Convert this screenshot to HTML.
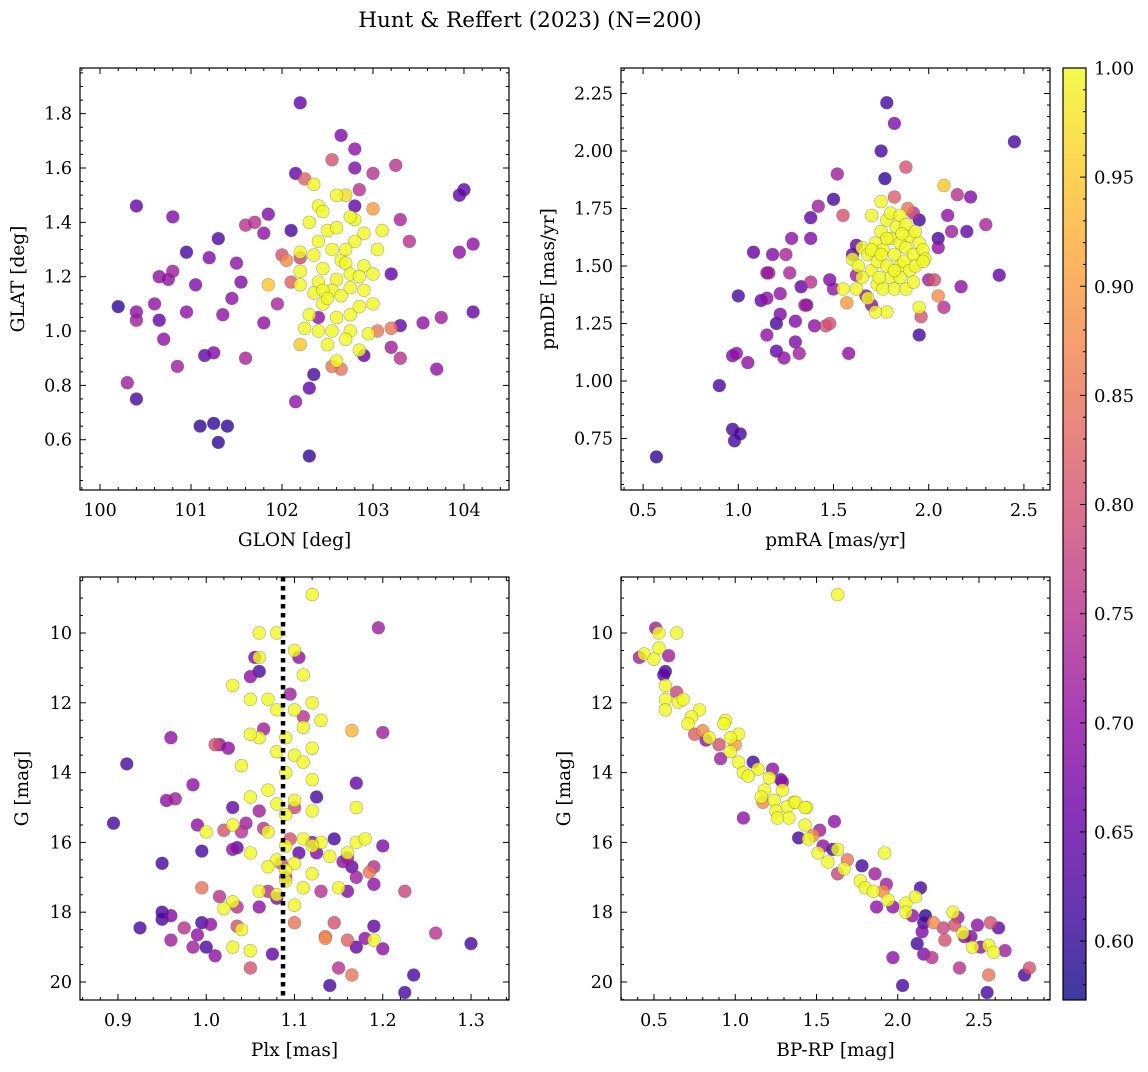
<!DOCTYPE html>
<html><head><meta charset="utf-8">
<style>
html,body{margin:0;padding:0;background:#fff;}
svg text{font-family:"DejaVu Serif","Liberation Serif",serif;fill:#000;}
</style></head>
<body>
<svg id="fig" width="1148" height="1067" xmlns="http://www.w3.org/2000/svg">
<defs>
<linearGradient id="plasma" x1="0" y1="1" x2="0" y2="0">
<stop offset="0" stop-color="#0d0887"/><stop offset="0.1" stop-color="#41049d"/><stop offset="0.2" stop-color="#6a00a8"/><stop offset="0.3" stop-color="#8f0da4"/><stop offset="0.4" stop-color="#b12a90"/><stop offset="0.5" stop-color="#cc4778"/><stop offset="0.6" stop-color="#e16462"/><stop offset="0.7" stop-color="#f2844b"/><stop offset="0.8" stop-color="#fca636"/><stop offset="0.9" stop-color="#fcce25"/><stop offset="1" stop-color="#f0f921"/>
</linearGradient>
</defs>
<text x="530" y="27" font-size="21.5" text-anchor="middle">Hunt &amp; Reffert (2023) (N=200)</text>
</svg>
<script>
// ---------- data ----------
const p1x=[100.2,100.3,100.4,100.4,100.4,100.4,100.6,100.65,100.65,100.75,100.7,100.8,100.8,100.85,100.95,100.95,101.05,101.1,101.15,101.2,101.25,101.25,101.3,101.3,101.35,101.4,101.45,101.5,101.55,101.6,101.6,101.7,101.8,101.8,101.85,101.95,102.0,102.1,102.15,102.15,102.2,102.2,102.3,102.3,102.35,102.4,102.55,102.65,102.8,102.8,102.8,102.85,103.0,103.0,102.9,103.2,103.25,103.3,103.4,103.3,103.3,103.2,103.2,103.55,103.7,103.75,103.95,104.0,104.1,104.1,103.95,103.05,102.25,102.1,102.05,102.65,102.55,101.85,
102.35,102.6,102.7,102.4,102.45,102.8,102.75,102.3,102.5,102.6,102.9,103.1,102.4,102.55,102.8,102.35,102.2,102.65,102.7,102.9,102.45,102.2,102.75,102.85,103.0,103.05,102.6,102.4,102.2,102.55,102.35,102.75,102.9,102.65,102.45,102.85,102.3,102.6,102.75,102.25,102.4,102.55,102.75,102.95,102.7,102.5,102.2,102.85,102.6,102.45,102.7,102.5,103.0];
const p1y=[1.09,0.81,1.46,1.07,1.04,0.75,1.1,1.2,1.04,1.19,0.97,1.42,1.22,0.87,1.29,1.07,1.17,0.65,0.91,1.27,0.66,0.92,1.34,0.59,1.06,0.65,1.12,1.25,1.18,0.9,1.39,1.4,1.03,1.36,1.43,1.1,1.28,1.37,1.58,0.74,1.84,1.27,0.54,0.79,0.84,1.05,1.63,1.72,1.67,1.6,1.46,1.52,1.58,1.45,0.91,1.21,1.61,1.41,1.33,1.02,0.9,0.94,1.01,1.03,0.86,1.05,1.5,1.52,1.32,1.07,1.29,1.0,1.56,1.18,1.26,0.86,0.87,1.17,
1.54,1.5,1.5,1.46,1.44,1.41,1.42,1.4,1.37,1.38,1.36,1.37,1.33,1.3,1.33,1.28,1.29,1.26,1.25,1.24,1.23,1.22,1.21,1.2,1.21,1.3,1.19,1.18,1.17,1.15,1.14,1.16,1.15,1.13,1.1,1.09,1.06,1.05,1.06,1.01,1.0,1.0,1.0,0.99,0.97,0.95,0.95,0.93,0.89,1.15,1.3,1.12,1.1];
const p1c=[0.6,0.72,0.65,0.7,0.72,0.62,0.7,0.7,0.65,0.7,0.7,0.68,0.72,0.72,0.62,0.7,0.68,0.6,0.65,0.68,0.6,0.68,0.62,0.6,0.7,0.6,0.7,0.7,0.68,0.73,0.75,0.75,0.7,0.7,0.68,0.73,0.8,0.62,0.65,0.7,0.65,0.78,0.6,0.65,0.62,0.7,0.8,0.68,0.7,0.68,0.65,0.75,0.75,0.9,0.65,0.65,0.75,0.73,0.75,0.65,0.75,0.72,0.85,0.7,0.7,0.72,0.65,0.65,0.7,0.65,0.7,0.85,0.82,0.82,0.88,0.85,0.85,0.95,
1,1,0.97,1,1,1,1,1,1,1,1,1,1,1,1,1,1,1,1,1,1,1,1,1,1,1,1,1,1,1,1,1,1,1,1,1,1,1,1,1,1,1,1,1,1,1,0.95,1,1,1,1,1,1];

const p2x=[0.57,0.9,0.97,0.98,1.01,0.97,0.99,1.0,1.05,1.08,1.12,1.15,1.16,1.15,1.15,1.18,1.2,1.2,1.22,1.22,1.24,1.25,1.27,1.28,1.3,1.3,1.32,1.33,1.35,1.36,1.38,1.38,1.38,1.4,1.42,1.46,1.48,1.5,1.5,1.52,1.55,1.58,1.6,1.62,1.62,1.67,1.7,1.75,1.77,1.78,1.82,1.88,1.92,1.95,1.95,1.96,2.0,2.03,2.05,2.05,2.08,2.1,2.12,2.15,2.17,2.22,2.2,2.3,2.37,2.45,2.05,2.08,1.89,1.82,1.57,1.48,
1.6,1.63,1.65,1.68,1.7,1.72,1.73,1.75,1.76,1.78,1.78,1.8,1.8,1.82,1.83,1.85,1.85,1.87,1.88,1.9,1.9,1.92,1.93,1.95,1.97,1.98,1.7,1.75,1.8,1.85,1.88,1.65,1.62,1.68,1.73,1.76,1.82,1.88,1.92,1.95,1.78,1.72,1.55,1.74,1.85,1.78,1.82,1.7,1.93,1.97,1.86,1.75];
const p2y=[0.67,0.98,0.79,0.74,0.77,1.11,1.12,1.37,1.08,1.56,1.35,1.47,1.47,1.36,1.2,1.55,1.13,1.25,1.29,1.38,1.1,1.55,1.47,1.62,1.26,1.17,1.12,1.41,1.33,1.33,1.71,1.62,1.43,1.24,1.76,1.24,1.44,1.79,1.4,1.9,1.72,1.12,1.55,1.46,1.59,1.37,1.33,2.0,1.88,2.21,2.12,1.93,1.73,1.7,1.2,1.28,1.44,1.44,1.58,1.62,1.32,1.72,1.65,1.81,1.41,1.8,1.65,1.68,1.46,2.04,1.37,1.85,1.75,1.8,1.34,1.25,
1.53,1.5,1.58,1.55,1.48,1.6,1.52,1.65,1.57,1.5,1.7,1.62,1.45,1.55,1.67,1.6,1.5,1.52,1.58,1.63,1.48,1.55,1.5,1.6,1.57,1.53,1.72,1.78,1.73,1.72,1.68,1.45,1.4,1.36,1.42,1.4,1.4,1.4,1.43,1.32,1.3,1.3,1.4,1.45,1.45,1.62,1.48,1.57,1.65,1.52,1.64,1.55];
const p2c=[0.6,0.62,0.62,0.62,0.62,0.68,0.7,0.62,0.7,0.65,0.65,0.7,0.72,0.7,0.7,0.68,0.65,0.62,0.68,0.7,0.7,0.73,0.73,0.7,0.68,0.68,0.72,0.65,0.72,0.68,0.65,0.68,0.75,0.7,0.72,0.8,0.68,0.62,0.7,0.72,0.8,0.7,0.65,0.72,0.65,0.7,0.7,0.62,0.6,0.62,0.68,0.8,0.75,0.62,0.62,0.8,0.72,0.8,0.7,0.62,0.75,0.7,0.72,0.75,0.7,0.68,0.65,0.73,0.65,0.62,0.88,0.95,0.85,0.82,0.9,0.8,
1,1,1,1,1,1,1,1,1,1,1,1,1,1,1,1,1,1,1,1,1,1,1,1,1,1,1,1,1,1,1,1,1,1,1,1,1,1,1,1,1,1,1,1,1,1,1,1,1,1,1,1];

const p3x=[1.12,1.06,1.08,1.06,1.1,1.11,1.07,1.05,1.03,1.12,1.1,1.13,1.08,1.11,1.09,1.06,1.05,1.12,1.1,1.08,1.04,1.11,1.09,1.12,1.07,1.05,1.1,1.08,1.09,1.12,1.03,1.07,1.11,1.13,1.09,1.05,1.08,1.1,1.14,1.16,1.07,1.12,1.09,1.06,1.08,1.1,1.03,1.02,1.04,1.03,1.05,1.17,1.19,1.17,1.18,1.15,1.11,1.09,1.0,1.12,
0.895,0.91,0.925,0.95,0.95,0.95,0.955,0.96,0.96,0.96,0.965,0.975,0.985,0.985,0.99,0.99,0.995,0.995,0.995,1.0,1.005,1.01,1.01,1.015,1.015,1.02,1.025,1.03,1.03,1.035,1.035,1.035,1.04,1.045,1.05,1.05,1.055,1.06,1.06,1.06,1.065,1.065,1.07,1.075,1.08,1.085,1.09,1.095,1.095,1.1,1.1,1.105,1.105,1.11,1.12,1.125,1.125,1.13,1.135,1.14,1.145,1.145,1.155,1.15,1.16,1.16,1.165,1.165,1.17,1.17,1.17,1.18,1.185,1.19,1.19,1.19,1.195,1.2,1.2,1.2,1.225,1.225,1.235,1.26,1.3,1.165,1.135,1.16];
const p3y=[8.9,10.0,10.0,10.7,10.5,11.2,11.9,11.9,11.5,12.0,12.2,12.5,12.2,12.7,13.0,13.0,12.9,13.3,13.5,13.4,13.8,13.7,14.0,14.2,14.5,14.7,14.8,14.9,15.2,15.1,15.5,15.7,15.9,16.0,16.1,16.3,16.5,16.6,16.4,16.3,16.7,16.9,17.1,17.4,17.5,17.8,17.7,17.9,18.5,19.0,19.1,16.0,18.8,15.0,15.9,17.3,17.3,16.8,15.7,16.1,
15.45,13.75,18.45,16.6,18.2,18.0,14.8,13.0,18.1,18.8,14.75,18.45,19.0,14.35,18.65,15.5,16.25,18.3,17.3,19.0,18.35,13.2,19.25,13.2,17.55,15.65,13.3,16.2,15.0,16.15,18.4,17.85,15.7,15.45,19.6,11.25,10.7,11.1,15.1,17.85,12.75,15.6,17.4,19.2,17.6,16.6,17.0,15.9,11.75,18.3,15.0,16.3,10.7,12.4,16.0,16.3,14.7,17.4,18.7,20.1,18.3,15.9,16.55,19.6,17.4,18.8,19.8,16.7,14.3,17.0,19.0,18.75,16.85,17.2,18.4,16.7,9.85,12.85,19.05,16.1,17.4,20.3,19.8,18.6,18.9,12.8,18.75,16.45];
const p3c=[1,1,1,1,1,1,1,1,1,1,1,1,1,1,1,1,1,1,1,1,1,1,1,1,1,1,1,1,1,1,1,1,1,1,1,1,1,1,1,1,1,1,1,1,1,1,1,1,1,1,1,1,1,1,1,1,1,1,1,1,
0.62,0.62,0.62,0.62,0.62,0.62,0.7,0.7,0.68,0.72,0.72,0.75,0.72,0.7,0.7,0.7,0.62,0.62,0.85,0.62,0.7,0.8,0.7,0.7,0.75,0.8,0.7,0.7,0.65,0.65,0.8,0.75,0.75,0.72,0.8,0.7,0.68,0.62,0.72,0.7,0.72,0.75,0.75,0.65,0.68,0.8,0.75,0.8,0.72,0.85,0.78,0.65,0.7,0.75,0.7,0.68,0.62,0.75,0.85,0.62,0.8,0.62,0.7,0.75,0.68,0.82,0.85,0.65,0.65,0.72,0.65,0.7,0.85,0.7,0.65,0.75,0.72,0.72,0.7,0.68,0.78,0.62,0.62,0.75,0.62,0.93,0.88,0.72];

const p4x=[1.63,0.51,0.53,0.64,0.53,0.41,0.44,0.5,0.59,0.57,0.56,0.57,0.64,0.57,0.57,0.65,0.68,0.78,0.73,0.71,0.75,0.80,0.84,0.82,0.9,0.91,0.94,0.93,1.02,0.97,1.0,0.97,1.02,1.11,1.14,1.05,1.08,1.23,1.28,1.21,1.29,1.18,1.16,1.24,1.17,1.36,1.44,1.32,1.25,1.33,1.05,1.61,1.26,
1.29,1.37,1.43,1.43,1.52,1.39,1.48,1.45,1.54,1.63,1.51,1.60,1.69,1.57,1.67,1.63,1.78,1.86,1.92,1.77,1.80,1.85,1.87,1.91,1.93,1.94,1.97,2.05,2.11,2.05,2.14,2.09,2.17,2.16,2.15,2.22,2.28,2.34,2.37,2.35,2.29,2.40,2.41,2.45,2.49,2.57,2.62,2.56,2.59,2.46,2.51,2.66,2.12,2.16,2.21,1.97,2.38,2.56,2.03,2.55,2.78,2.81];
const p4y=[8.9,9.86,10.0,10.0,10.43,10.7,10.6,10.75,10.65,11.1,11.2,11.5,11.7,11.9,12.2,11.98,11.9,12.2,12.4,12.6,12.9,12.8,13.0,13.07,13.2,13.6,12.5,12.6,12.9,13.0,13.2,13.4,13.7,13.7,13.9,14.0,14.1,13.9,14.2,14.15,14.5,14.5,14.7,14.8,14.85,14.85,15.0,14.98,15.1,15.3,15.3,15.4,15.3,
14.27,14.85,15.0,15.5,15.65,15.87,15.8,15.9,16.1,16.2,16.3,16.2,16.5,16.56,16.76,16.9,16.67,16.9,16.3,17.1,17.3,17.4,17.85,17.4,17.2,17.65,17.85,17.74,17.56,18.0,17.3,18.1,18.1,18.3,18.56,18.3,18.45,18.0,18.15,18.37,18.8,18.6,18.7,18.7,18.37,18.3,18.45,18.95,19.15,19.0,19.0,19.1,18.9,19.2,19.3,19.3,19.6,19.8,20.1,20.3,19.8,19.6];
const p4c=[1,0.72,1,1,1,0.72,1,1,0.72,0.62,0.65,1,0.78,1,1,1,1,1,1,1,0.82,0.88,1,0.7,0.8,0.72,1,1,1,1,0.9,1,1,0.62,1,1,1,0.7,0.65,1,1,1,1,1,0.88,1,1,1,1,1,0.7,0.7,1,
0.7,1,1,1,0.72,0.62,0.88,1,0.7,1,1,0.62,0.85,1,1,0.78,0.62,0.72,1,1,1,1,0.7,0.88,0.72,1,0.7,1,1,1,0.62,0.7,0.6,0.62,0.68,0.88,0.78,1,0.72,0.8,0.8,1,0.7,0.68,0.7,0.8,0.65,1,1,1,0.7,0.72,0.62,0.68,0.75,0.7,0.75,0.85,0.62,0.62,0.62,0.8];

const cbTicks=[0.60,0.65,0.70,0.75,0.80,0.85,0.90,0.95,1.00];
const cMin=0.573, cMax=1.0;

// ---------- drawing ----------
const NS="http://www.w3.org/2000/svg";
const svg=document.getElementById('fig');
function mk(tag,attrs,parent){const e=document.createElementNS(NS,tag);for(const k in attrs)e.setAttribute(k,attrs[k]);(parent||svg).appendChild(e);return e;}
const stops=[[13,8,135],[65,4,157],[106,0,168],[143,13,164],[177,42,144],[204,71,120],[225,100,98],[242,132,75],[252,166,54],[252,206,37],[240,249,33]];
function plasma(v){let t=(v-cMin)/(cMax-cMin);t=Math.max(0,Math.min(1,t))*10;const i=Math.min(9,Math.floor(t)),f=t-i;const a=stops[i],b=stops[i+1];return `rgb(${a.map((c,k)=>Math.round(c+(b[k]-c)*f)).join(',')})`;}

function panel(cfg){
  const {L,R,T,B,x0,x1,y0,y1,inv}=cfg;
  const sx=v=>L+(v-x0)/(x1-x0)*(R-L);
  const sy=v=>inv? T+(v-y0)/(y1-y0)*(B-T) : B-(v-y0)/(y1-y0)*(B-T);
  const g=mk('g',{});
  
  
  const pts=mk('g',{},g);
  
  
  const order=cfg.xs.map((_,i)=>i).sort((a,b)=>cfg.cs[a]-cfg.cs[b]);
  order.forEach(i=>{
    const c=mk('circle',{cx:sx(cfg.xs[i]).toFixed(1),cy:sy(cfg.ys[i]).toFixed(1),r:6.4,fill:plasma(cfg.cs[i]),'fill-opacity':0.8,stroke:'rgba(80,80,80,0.45)','stroke-width':0.6},pts);
    
    
  });
  if(cfg.vline!==undefined){
    const l=mk('line',{x1:sx(cfg.vline),x2:sx(cfg.vline),y1:T,y2:B,stroke:'#000','stroke-width':4.5,'stroke-dasharray':'4.5,4.5'},g);
    
    
  }
  const fr=mk('rect',{x:L,y:T,width:R-L,height:B-T,fill:'none',stroke:'#000','stroke-width':1.2},g);
  
  
  const tk=mk('g',{stroke:'#000','stroke-width':1},g);
  
  
  const eps=1e-9;
  for(let v=Math.ceil(x0/cfg.xmin-eps)*cfg.xmin; v<=x1+eps; v+=cfg.xmin){
    const X=sx(v); const major=Math.abs(v/cfg.xmaj-Math.round(v/cfg.xmaj))<1e-6; const len=major?6:3;
    mk('line',{x1:X,x2:X,y1:B,y2:B-len},tk); mk('line',{x1:X,x2:X,y1:T,y2:T+len},tk);
  }
  for(let v=Math.ceil(y0/cfg.ymin-eps)*cfg.ymin; v<=y1+eps; v+=cfg.ymin){
    const Y=sy(v); const major=Math.abs(v/cfg.ymaj-Math.round(v/cfg.ymaj))<1e-6; const len=major?6:3;
    mk('line',{x1:L,x2:L+len,y1:Y,y2:Y},tk); mk('line',{x1:R,x2:R-len,y1:Y,y2:Y},tk);
  }
  cfg.xt.forEach((v,i)=>{const t=mk('text',{x:sx(v),y:B+26,'font-size':17.5,'text-anchor':'middle'},g);t.textContent=cfg.xtl[i];
    });
  cfg.yt.forEach((v,i)=>{const t=mk('text',{x:L-8,y:sy(v)+6,'font-size':17.5,'text-anchor':'end'},g);t.textContent=cfg.ytl[i];
    });
  const xl=mk('text',{x:(L+R)/2,y:B+56,'font-size':18.5,'text-anchor':'middle'},g);xl.textContent=cfg.xlab;
  
  const yx=cfg.ylx, yc=(T+B)/2;
  const yl=mk('text',{x:yx,y:yc,'font-size':18.5,'text-anchor':'middle',transform:`rotate(-90 ${yx} ${yc})`},g);yl.textContent=cfg.ylab;
  
}
const fmt=(a,d)=>a.map(v=>v.toFixed(d));
const t1x=[100,101,102,103,104], t1y=[0.6,0.8,1.0,1.2,1.4,1.6,1.8];
panel({name:'glon-glat-panel',L:80,R:509,T:68,B:490,x0:99.78,x1:104.495,y0:0.415,y1:1.968,xmaj:1,xmin:0.2,ymaj:0.2,ymin:0.05,
 xt:t1x,xtl:fmt(t1x,0),yt:t1y,ytl:fmt(t1y,1),xlab:'GLON [deg]',ylab:'GLAT [deg]',ylx:24,xs:p1x,ys:p1y,cs:p1c});
const t2x=[0.5,1.0,1.5,2.0,2.5], t2y=[0.75,1.0,1.25,1.5,1.75,2.0,2.25];
panel({name:'proper-motion-panel',L:621,R:1050,T:68,B:490,x0:0.384,x1:2.637,y0:0.526,y1:2.361,xmaj:0.5,xmin:0.1,ymaj:0.25,ymin:0.05,
 xt:t2x,xtl:fmt(t2x,1),yt:t2y,ytl:fmt(t2y,2),xlab:'pmRA [mas/yr]',ylab:'pmDE [mas/yr]',ylx:554,xs:p2x,ys:p2y,cs:p2c});
const t3x=[0.9,1.0,1.1,1.2,1.3], tG=[10,12,14,16,18,20];
panel({name:'parallax-magnitude-panel',L:80,R:509,T:577,B:1000,x0:0.857,x1:1.343,y0:8.395,y1:20.516,inv:true,xmaj:0.1,xmin:0.02,ymaj:2,ymin:0.5,
 xt:t3x,xtl:fmt(t3x,1),yt:tG,ytl:fmt(tG,0),xlab:'Plx [mas]',ylab:'G [mag]',ylx:28,xs:p3x,ys:p3y,cs:p3c,vline:1.087});
const t4x=[0.5,1.0,1.5,2.0,2.5];
panel({name:'color-magnitude-panel',L:621,R:1050,T:577,B:1000,x0:0.297,x1:2.937,y0:8.395,y1:20.516,inv:true,xmaj:0.5,xmin:0.1,ymaj:2,ymin:0.5,
 xt:t4x,xtl:fmt(t4x,1),yt:tG,ytl:fmt(tG,0),xlab:'BP-RP [mag]',ylab:'G [mag]',ylx:570,xs:p4x,ys:p4y,cs:p4c});

// colorbar
const cb=mk('g',{});


const cL=1063,cR=1086,cT=68,cB=1000;
mk('rect',{x:cL,y:cT,width:cR-cL,height:cB-cT,fill:'url(#plasma)','fill-opacity':0.8},cb);
mk('rect',{x:cL,y:cT,width:cR-cL,height:cB-cT,fill:'none',stroke:'#000','stroke-width':1.2},cb);
const cy=v=>cB-(v-cMin)/(cMax-cMin)*(cB-cT);
for(let v=0.58;v<=1.0001;v+=0.01){const Y=cy(v);const maj=Math.abs(v*20-Math.round(v*20))<1e-6;mk('line',{x1:cR,x2:cR-(maj?6:3),y1:Y,y2:Y,stroke:'#000','stroke-width':1},cb);}
cbTicks.forEach(v=>{const t=mk('text',{x:cR+8,y:cy(v)+6.5,'font-size':18},cb);t.textContent=v.toFixed(2);
 });
</script>
</body></html>
